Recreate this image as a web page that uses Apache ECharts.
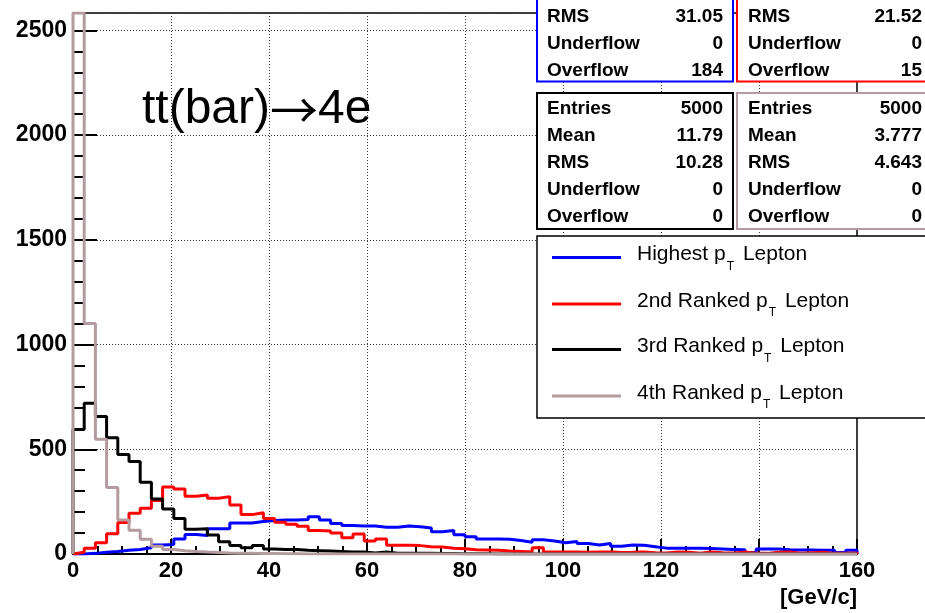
<!DOCTYPE html>
<html><head><meta charset="utf-8">
<script src="https://cdn.jsdelivr.net/npm/echarts@6/dist/echarts.min.js"></script>
<style>html,body{margin:0;padding:0;background:#fff}#c{width:925px;height:613px}</style>
</head><body><div id="c"></div>
<script>
// ---- data ----
const X_MIN = 0, X_MAX = 160, Y_MAX = 2583;
const highest = [0,3,8,12,18,22,30,43,45,72, 93,88,120,120,148,148,155,160,162,162,
  165,178,162,146,136,134,134,128,128,134, 130,124,106,112,92,82,72,72,70,64,
  56,68,62,54,60,50,43,50,37,43, 42,35,28,27,28,28,26,24,22,20,
  7,24,24,20,19,19,18,18,7,18];
const second = [8,27,54,97,150,194,218,255,320,310, 276,282,266,274,234,188,197,170,152,142,
  132,112,110,100,78,95,62,72,42,42, 40,35,33,28,25,20,19,18,14,12,
  10,30,10,9,10,8,10,9,7,8, 10,6,5,9,8,4,9,6,5,9,
  4,3,8,9,4,6,8,3,4,5];
const third = [595,720,657,555,475,442,343,263,215,170, 118,120,91,59,40,30,40,24,22,22,
  18,16,14,12,10,10,5,10,4,4, 3,3,2,2,1,1,1,0,0,0,
  0,0,0,0,0,0,0,0,0,0, 0,0,0,0,0,0,0,0,0,0, 0,0,0,0,0,0,0,0,0,0];
const fourth = [2583,1100,548,318,162,113,70,37,21,16, 12,9,7,5,4,3,2,2,1,1,
  0,0,0,0,0,0,0,0,0,0, 0,0,0,0,0,0,0,0,0,0,
  0,0,0,0,0,0,0,0,0,0, 0,0,0,0,0,0,0,0,0,0, 0,0,0,0,0,0,0,0,0,0];
const seriesNames = ['Highest p', '2nd Ranked p', '3rd Ranked p', '4th Ranked p'];
const seriesColors = ['#0000ff', '#ff0000', '#000000', '#b39ba0'];
const statLabels = ['Entries', 'Mean', 'RMS', 'Underflow', 'Overflow'];
const statsHighest = [null, null, '31.05', '0', '184'];
const statsSecond = [null, null, '21.52', '0', '15'];
const statsThird = ['5000', '11.79', '10.28', '0', '0'];
const statsFourth = ['5000', '3.777', '4.643', '0', '0'];
const titleParts = ['tt(bar)', '\u2192', '4e'];
const xUnit = '[GeV/c]';

function steps(vals) {
  const w = (X_MAX - X_MIN) / vals.length;
  const pts = [[X_MIN, 0]];
  vals.forEach((v, i) => pts.push([X_MIN + i * w, v]));
  pts.push([X_MAX, vals[vals.length - 1]]);
  pts.push([X_MAX, 0]);
  return pts;
}

const FONT = '"Liberation Sans", Arial, sans-serif';
const graphics = [];
graphics.push({type:'text', z:100, style:{
  text:'{a|' + titleParts[0] + '}{r|' + titleParts[1] + '}{a|' + titleParts[2] + '}',
  x:142, y:110, verticalAlign:'middle',
  rich:{a:{fontFamily:FONT, fontSize:48, fill:'#000', color:'#000'},
        r:{fontFamily:'"Noto Sans CJK SC", "DejaVu Sans", sans-serif', fontSize:48, fontWeight:'normal', fill:'#000', color:'#000', padding:[0,0,0,0]}}
}});
graphics.push({type:'text', z:100, style:{text:xUnit, x:857, y:598, font:'bold 22px ' + FONT, fill:'#000', align:'right', verticalAlign:'middle'}});

function statBox(x, y, w, h, color, stats, labelX, valueX, firstRowY) {
  graphics.push({type:'rect', z:100, shape:{x:x, y:y, width:w, height:h}, style:{fill:'#fff', stroke:color, lineWidth:2}});
  stats.forEach((v, i) => {
    if (v === null) return;
    const ry = firstRowY + i * 27;
    graphics.push({type:'text', z:101, style:{text:statLabels[i], x:labelX, y:ry, font:'bold 19px ' + FONT, fill:'#000', verticalAlign:'middle'}});
    graphics.push({type:'text', z:101, style:{text:v, x:valueX, y:ry, font:'bold 19px ' + FONT, fill:'#000', align:'right', verticalAlign:'middle'}});
  });
}
statBox(537, -70, 196, 151.5, seriesColors[0], statsHighest, 547, 723, 16.7 - 54);
statBox(737, -70, 220, 151.5, '#ff0000', statsSecond, 748, 922, 16.7 - 54);
statBox(537, 93, 196, 136, '#000000', statsThird, 547, 723, 108.5);
statBox(737, 93, 220, 136, seriesColors[3], statsFourth, 748, 922, 108.5);

// legend
graphics.push({type:'rect', z:100, shape:{x:537, y:236, width:420, height:182}, style:{fill:'#fff', stroke:'#000', lineWidth:1.5}});
const legY = [257.5, 304, 349.5, 396];
seriesNames.forEach((n, i) => {
  graphics.push({type:'line', z:101, shape:{x1:552, y1:legY[i], x2:621, y2:legY[i]}, style:{stroke:seriesColors[i], lineWidth:3}});
  graphics.push({type:'text', z:101, style:{
    text:'{a|' + n + '}{s|T}{a| Lepton}', x:637, y:legY[i] - 3, verticalAlign:'middle',
    rich:{a:{fontFamily:FONT, fontSize:21, fill:'#000', color:'#000'},
          s:{fontFamily:FONT, fontSize:12, fill:'#000', color:'#000', padding:[24,3,0,1]}}
  }});
});

const chart = echarts.init(document.getElementById('c'), null, {renderer:'canvas'});
chart.setOption({
  animation:false,
  backgroundColor:'#fff',
  grid:{left:73, top:13, right:68, bottom:59, show:true, borderColor:'#000', borderWidth:1.5, backgroundColor:'#fff'},
  xAxis:{type:'value', min:X_MIN, max:X_MAX, interval:20,
    axisLine:{show:true, lineStyle:{color:'#000', width:2}},
    axisTick:{show:true, inside:true, length:15, lineStyle:{color:'#000', width:2}},
    minorTick:{show:true, splitNumber:4, length:8, lineStyle:{color:'#000', width:2}},
    splitLine:{show:true, lineStyle:{color:'#333', type:[1,2], width:1}},
    axisLabel:{color:'#000', fontWeight:'bold', fontSize:22, fontFamily:FONT, margin:6, formatter:v => String(v)}},
  yAxis:[{type:'value', min:0, max:Y_MAX, interval:500,
    axisLine:{show:true, lineStyle:{color:'#000', width:2}},
    axisTick:{show:true, inside:true, length:24, lineStyle:{color:'#000', width:2}},
    splitLine:{show:true, lineStyle:{color:'#333', type:[1,2], width:1}},
    axisLabel:{color:'#000', fontWeight:'bold', fontSize:23, fontFamily:FONT, margin:6, showMaxLabel:false,
      formatter:v => (v % 500 === 0 ? String(v) : '')}},
   {type:'value', min:0, max:Y_MAX, interval:100, position:'left', offset:0,
    axisLine:{show:false}, splitLine:{show:false}, axisLabel:{show:false},
    axisTick:{show:true, inside:true, length:12, lineStyle:{color:'#000', width:2}}}],
  series:[highest, second, third, fourth].map((vals, i) => ({
    type:'line', step:'end', data:steps(vals), showSymbol:false, symbol:'none',
    lineStyle:{color:seriesColors[i], width:3}, itemStyle:{color:seriesColors[i]}, z:2 + i
  })),
  graphic:graphics
});
</script></body></html>
